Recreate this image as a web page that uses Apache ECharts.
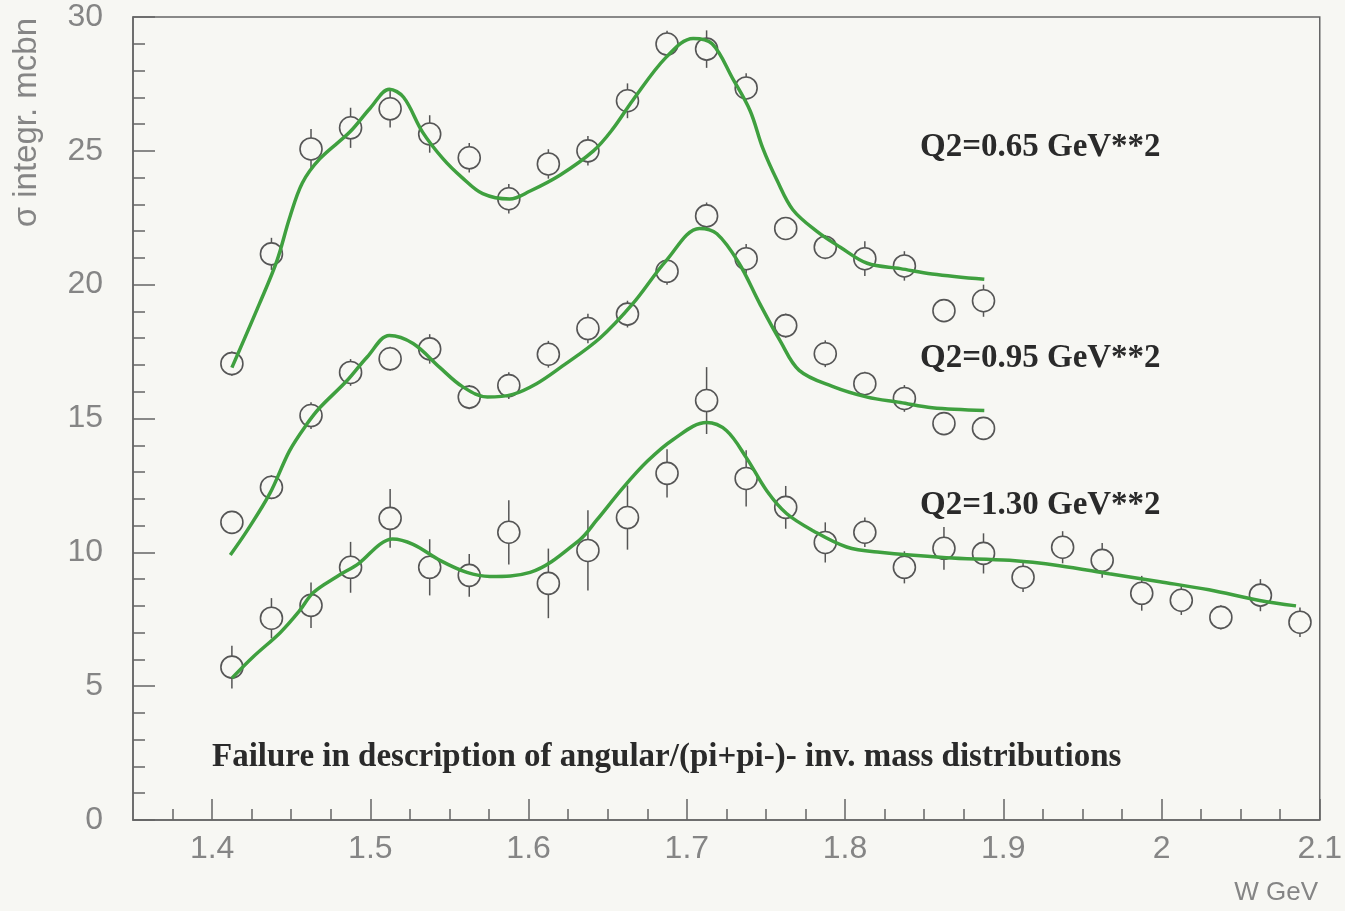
<!DOCTYPE html>
<html>
<head>
<meta charset="utf-8">
<script src="https://cdn.jsdelivr.net/npm/echarts@6/dist/echarts.min.js"></script>
<style>
html,body{margin:0;padding:0;background:#f7f7f3;}
#c{width:1345px;height:911px;}
</style>
</head>
<body>
<div id="c"></div>
<script>
// ---------- data ----------
const W = [1.4125,1.4375,1.4625,1.4875,1.5125,1.5375,1.5625,1.5875,1.6125,1.6375,1.6625,1.6875,1.7125,1.7375,1.7625,1.7875,1.8125,1.8375,1.8625,1.8875,1.9125,1.9375,1.9625,1.9875,2.0125,2.0375,2.0625,2.0875];

const sig065 = [17.05,21.15,25.07,25.86,26.57,25.63,24.74,23.21,24.51,25.0,26.87,28.99,28.8,27.35,22.1,21.4,20.97,20.7,19.03,19.4];
const err065 = [0.45,0.6,0.75,0.75,0.7,0.7,0.55,0.55,0.55,0.55,0.65,0.5,0.7,0.55,0.4,0.45,0.65,0.55,0.4,0.6];

const sig095 = [11.12,12.43,15.11,16.72,17.23,17.6,15.8,16.23,17.4,18.36,18.9,20.5,22.57,20.97,18.47,17.42,16.3,15.75,14.81,14.63];
const err095 = [0.4,0.45,0.5,0.5,0.45,0.55,0.45,0.5,0.5,0.55,0.5,0.5,0.5,0.55,0.45,0.5,0.45,0.5,0.4,0.4];

const sig130 = [5.71,7.54,8.02,9.44,11.27,9.44,9.14,10.75,8.84,10.07,11.3,12.95,15.67,12.76,11.68,10.37,10.75,9.44,10.15,9.96,9.07,10.19,9.7,8.47,8.21,7.57,8.4,7.39];
const err130 = [0.8,0.75,0.85,0.95,1.1,1.05,0.8,1.2,1.3,1.5,1.2,0.9,1.25,1.05,0.8,0.75,0.55,0.6,0.8,0.75,0.55,0.6,0.65,0.65,0.55,0.45,0.6,0.55];

const fit065W = [1.4125,1.430,1.441,1.449,1.457,1.468,1.487,1.500,1.512,1.521,1.533,1.546,1.558,1.571,1.588,1.601,1.620,1.641,1.653,1.666,1.687,1.704,1.716,1.729,1.740,1.748,1.757,1.767,1.782,1.797,1.814,1.835,1.855,1.888];
const fit065 = [16.9,19.3,20.9,22.5,23.8,24.7,25.7,26.6,27.3,27.0,25.7,24.7,24.0,23.4,23.2,23.5,24.1,25.0,25.8,26.9,28.5,29.2,29.0,27.7,26.5,25.1,23.9,22.8,22.0,21.4,20.8,20.6,20.4,20.2];

const fit095W = [1.4115,1.422,1.4365,1.449,1.460,1.468,1.485,1.498,1.512,1.527,1.544,1.558,1.574,1.590,1.605,1.620,1.645,1.666,1.687,1.708,1.719,1.733,1.746,1.759,1.771,1.792,1.814,1.835,1.855,1.888];
const fit095 = [9.9,10.8,12.2,13.8,14.8,15.4,16.4,17.3,18.1,17.8,16.9,16.2,15.8,15.9,16.3,16.9,18.0,19.3,20.9,22.1,21.9,20.8,19.3,17.9,16.8,16.2,15.8,15.6,15.4,15.3];

const fit130W = [1.4125,1.426,1.443,1.455,1.464,1.479,1.493,1.506,1.514,1.527,1.544,1.561,1.5755,1.601,1.632,1.643,1.6595,1.675,1.691,1.7125,1.725,1.738,1.7505,1.763,1.780,1.801,1.822,1.864,1.904,1.9355,1.967,1.999,2.030,2.062,2.085];
const fit130 = [5.3,6.1,7.0,7.8,8.5,9.1,9.6,10.3,10.5,10.3,9.7,9.25,9.1,9.25,10.45,11.2,12.4,13.4,14.2,14.85,14.55,13.5,12.3,11.45,10.8,10.2,10.0,9.8,9.7,9.5,9.2,8.9,8.6,8.2,8.0];

const xMajorTicks = [1.4,1.5,1.6,1.7,1.8,1.9,2,2.1];
const xMinorTicks = [1.375,1.425,1.45,1.475,1.525,1.55,1.575,1.625,1.65,1.675,1.725,1.75,1.775,1.825,1.85,1.875,1.925,1.95,1.975,2.025,2.05,2.075];

const labels = ['Q2=0.65 GeV**2','Q2=0.95 GeV**2','Q2=1.30 GeV**2'];
const footnote = 'Failure in description of angular/(pi+pi-)- inv. mass distributions';
const yTitle = 'σ integr. mcbn';
const xTitle = 'W GeV';

// ---------- build ----------
const BG = '#f7f7f3';
const AX = '#666';
const LBL = '#858585';
const GREEN = '#3fa03f';
const MARK = '#555';

function pts(xs, ys){ return ys.map((v,i)=>[xs[i], v]); }
function errPts(xs, ys, es){ return ys.map((v,i)=>[xs[i], v, es[i]]); }

function errSeries(d){
  return {
    type:'custom', xAxisIndex:0, yAxisIndex:0, z:2, silent:true,
    data:d,
    renderItem:function(params, api){
      const x = api.value(0), y = api.value(1), e = api.value(2);
      const p1 = api.coord([x, y - e]);
      const p2 = api.coord([x, y + e]);
      return {type:'line', shape:{x1:p1[0], y1:p1[1], x2:p2[0], y2:p2[1]},
              style:{stroke:MARK, lineWidth:1.5}};
    }
  };
}
function markSeries(d){
  return {type:'scatter', xAxisIndex:0, yAxisIndex:0, z:3, symbol:'circle', symbolSize:22,
    itemStyle:{color:BG, borderColor:MARK, borderWidth:1.6, opacity:1},
    data:d, silent:true};
}
function fitSeries(d){
  return {type:'line', xAxisIndex:0, yAxisIndex:0, z:4, data:d, smooth:0.35, symbol:'none',
    lineStyle:{color:GREEN, width:3.5}, silent:true};
}

const chart = echarts.init(document.getElementById('c'), null, {renderer:'canvas'});
const labelFont = '"Liberation Sans", Arial, sans-serif';
const serif = '"Liberation Serif", "Times New Roman", serif';

chart.setOption({
  backgroundColor: BG,
  animation:false,
  grid:{left:133, top:17, right:24, bottom:91, show:true, borderColor:AX, borderWidth:1.5, backgroundColor:'transparent'},
  xAxis:[{
    type:'value', min:1.35, max:2.1, position:'bottom',
    axisLine:{show:true, lineStyle:{color:AX, width:1.5}},
    axisTick:{show:true, inside:true, length:21, lineStyle:{color:AX, width:1.5}, customValues:xMajorTicks},
    axisLabel:{show:true, customValues:xMajorTicks, color:LBL, fontSize:32, fontFamily:labelFont, margin:13,
      formatter:function(v){ return String(+v.toFixed(2)); }},
    splitLine:{show:false}
  },{
    type:'value', min:1.35, max:2.1, position:'bottom',
    axisLine:{show:false},
    axisTick:{show:true, inside:true, length:11, lineStyle:{color:AX, width:1.5}, customValues:xMinorTicks},
    axisLabel:{show:false},
    splitLine:{show:false}
  }],
  yAxis:[{
    type:'value', min:0, max:30, interval:5,
    axisLine:{show:true, lineStyle:{color:AX, width:1.5}},
    axisTick:{show:true, inside:true, length:22, lineStyle:{color:AX, width:1.5}},
    minorTick:{show:true, splitNumber:5, length:12, lineStyle:{color:AX, width:1.5}},
    axisLabel:{color:LBL, fontSize:32, fontFamily:labelFont, margin:30},
    splitLine:{show:false}, minorSplitLine:{show:false}
  }],
  graphic:[
    {type:'text', x:27, y:18, rotation:Math.PI/2, silent:true,
      style:{text:yTitle, align:'right', verticalAlign:'middle', fill:LBL, font:'33px '+labelFont}},
    {type:'text', x:1318, y:893, silent:true,
      style:{text:xTitle, align:'right', verticalAlign:'middle', fill:LBL, font:'26px '+labelFont}},
    {type:'text', x:920, y:147, silent:true,
      style:{text:labels[0], align:'left', verticalAlign:'middle', fill:'#2a2a2a', font:'bold 33px '+serif}},
    {type:'text', x:920, y:358, silent:true,
      style:{text:labels[1], align:'left', verticalAlign:'middle', fill:'#2a2a2a', font:'bold 33px '+serif}},
    {type:'text', x:920, y:505, silent:true,
      style:{text:labels[2], align:'left', verticalAlign:'middle', fill:'#2a2a2a', font:'bold 33px '+serif}},
    {type:'text', x:212, y:757, silent:true,
      style:{text:footnote, align:'left', verticalAlign:'middle', fill:'#2a2a2a', font:'bold 33px '+serif}}
  ],
  series:[
    errSeries(errPts(W, sig065, err065)),
    errSeries(errPts(W, sig095, err095)),
    errSeries(errPts(W, sig130, err130)),
    markSeries(pts(W, sig065)),
    markSeries(pts(W, sig095)),
    markSeries(pts(W, sig130)),
    fitSeries(pts(fit065W, fit065)),
    fitSeries(pts(fit095W, fit095)),
    fitSeries(pts(fit130W, fit130))
  ]
});
</script>
</body>
</html>
